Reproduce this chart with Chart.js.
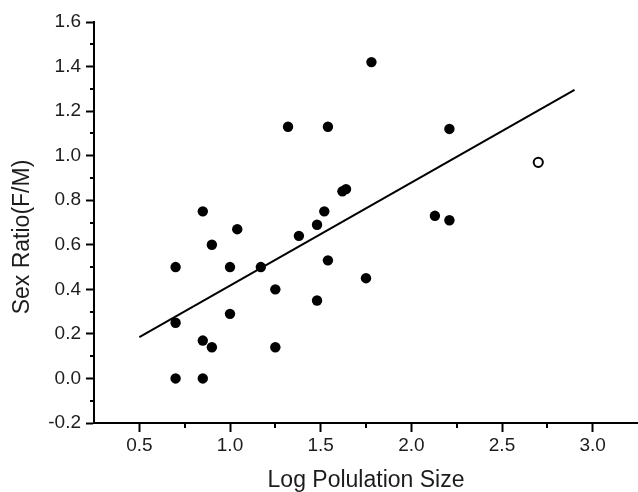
<!DOCTYPE html>
<html>
<head>
<meta charset="utf-8">
<script src="https://cdn.jsdelivr.net/npm/chart.js@4/dist/chart.umd.min.js"></script>
<style>
  html, body { margin: 0; padding: 0; background: #ffffff; }
  #wrap { width: 638px; height: 492px; }
</style>
</head>
<body>
<div id="wrap"><canvas id="c" width="638" height="492"></canvas></div>
<script>
// ---- data ----
const filledX = [0.85, 1.04, 0.90, 0.70, 1.00, 1.17, 1.25, 0.70, 1.00, 0.85, 0.90, 1.25, 0.70, 0.85,
                 1.78, 1.32, 1.54, 2.21, 1.62, 1.64, 1.52, 2.13, 2.21, 1.48, 1.38, 1.54, 1.75, 1.48];
const filledY = [0.75, 0.67, 0.60, 0.50, 0.50, 0.50, 0.40, 0.25, 0.29, 0.17, 0.14, 0.14, 0.00, 0.00,
                 1.42, 1.13, 1.13, 1.12, 0.84, 0.85, 0.75, 0.73, 0.71, 0.69, 0.64, 0.53, 0.45, 0.35];
const openX = [2.70];
const openY = [0.97];
const fitX = [0.50, 2.90];
const fitY = [0.185, 1.295];

const xMajorTicks = [0.5, 1.0, 1.5, 2.0, 2.5, 3.0];
const xMinorTicks = [0.75, 1.25, 1.75, 2.25, 2.75];
const yMajorTicks = [-0.2, 0.0, 0.2, 0.4, 0.6, 0.8, 1.0, 1.2, 1.4, 1.6];
const yMinorTicks = [-0.1, 0.1, 0.3, 0.5, 0.7, 0.9, 1.1, 1.3, 1.5];

const xTitle = 'Log Polulation Size';
const yTitle = 'Sex Ratio(F/M)';

const toPts = (xs, ys) => xs.map((x, i) => ({ x: x, y: ys[i] }));
const FONT = "'Liberation Sans', Arial, sans-serif";
const TEXT = '#1c1c1c';

const minorTickPlugin = {
  id: 'minorTicks',
  afterDraw(chart) {
    const ctx = chart.ctx;
    const xs = chart.scales.x, ys = chart.scales.y;
    const area = chart.chartArea;
    ctx.save();
    ctx.strokeStyle = '#000';
    ctx.lineWidth = 2;
    ctx.beginPath();
    xMinorTicks.forEach(v => {
      const px = Math.round(xs.getPixelForValue(v));
      ctx.moveTo(px, area.bottom);
      ctx.lineTo(px, area.bottom + 5);
    });
    yMinorTicks.forEach(v => {
      const py = Math.round(ys.getPixelForValue(v));
      ctx.moveTo(area.left - 4, py);
      ctx.lineTo(area.left, py);
    });
    ctx.stroke();
    // y-axis title
    ctx.translate(22.5, 237);
    ctx.rotate(-Math.PI / 2);
    ctx.fillStyle = TEXT;
    ctx.font = '23px ' + FONT;
    ctx.textAlign = 'center';
    ctx.textBaseline = 'middle';
    ctx.fillText(yTitle, 0, 0);
    ctx.restore();
  }
};

new Chart(document.getElementById('c'), {
  type: 'scatter',
  data: {
    datasets: [
      {
        type: 'line',
        data: toPts(fitX, fitY),
        borderColor: '#000',
        borderWidth: 2,
        pointRadius: 0,
        fill: false,
        order: 2
      },
      {
        data: toPts(filledX, filledY),
        pointRadius: 5.2,
        pointBackgroundColor: '#000',
        pointBorderColor: '#000',
        pointBorderWidth: 0,
        order: 1
      },
      {
        data: toPts(openX, openY),
        pointRadius: 4.6,
        pointBackgroundColor: '#fff',
        pointBorderColor: '#000',
        pointBorderWidth: 2,
        order: 0
      }
    ]
  },
  options: {
    responsive: false,
    animation: false,
    devicePixelRatio: 1,
    layout: { autoPadding: false, padding: { top: 22, right: 0, left: 0, bottom: 0 } },
    plugins: { legend: { display: false }, tooltip: { enabled: false } },
    scales: {
      x: {
        type: 'linear',
        min: 0.25,
        max: 3.25,
        afterBuildTicks: s => { s.ticks = xMajorTicks.map(v => ({ value: v })); },
        afterFit: s => { s.height = 69; s.paddingLeft = 0; s.paddingRight = 0; },
        ticks: {
          color: TEXT,
          font: { family: FONT, size: 19 },
          padding: 2,
          maxRotation: 0,
          autoSkip: false,
          callback: v => Number(v).toFixed(1)
        },
        grid: { drawOnChartArea: false, drawTicks: true, tickLength: 9, tickWidth: 2, tickColor: '#000' },
        border: { display: true, color: '#000', width: 2 },
        title: {
          display: true,
          text: xTitle,
          color: TEXT,
          font: { family: FONT, size: 23, lineHeight: 1 },
          padding: 0
        }
      },
      y: {
        type: 'linear',
        min: -0.2,
        max: 1.6,
        afterBuildTicks: s => { s.ticks = yMajorTicks.map(v => ({ value: v })); },
        afterFit: s => { s.width = 94; },
        ticks: {
          color: TEXT,
          font: { family: FONT, size: 19 },
          padding: 5,
          autoSkip: false,
          callback: v => Number(v).toFixed(1)
        },
        grid: { drawOnChartArea: false, drawTicks: true, tickLength: 8, tickWidth: 2, tickColor: '#000' },
        border: { display: true, color: '#000', width: 2 }
      }
    }
  },
  plugins: [minorTickPlugin]
});
</script>
</body>
</html>
